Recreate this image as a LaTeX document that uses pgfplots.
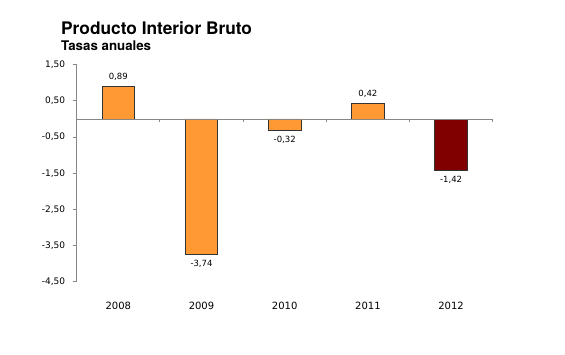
\documentclass[border=0pt]{standalone}
\usepackage{pgfplots}
\pgfplotsset{compat=1.18}
\usepackage{fontspec}
\setmainfont{DejaVu Sans}
\newfontfamily\titlefont{TeX Gyre Heros}
\definecolor{barorange}{HTML}{FF9933}
\definecolor{bardark}{HTML}{800000}
\definecolor{axgray}{HTML}{868686}
\begin{document}
\begin{tikzpicture}
\path[use as bounding box] (0pt,0pt) rectangle (565pt,354pt);
\node[anchor=base west, inner sep=0pt, font=\titlefont\bfseries\fontsize{17.3}{20}\selectfont] at (61pt,319.7pt) {Producto Interior Bruto};
\node[anchor=base west, inner sep=0pt, font=\titlefont\bfseries\fontsize{13.3}{16}\selectfont] at (61pt,303pt) {Tasas anuales};
\begin{axis}[
  at={(76.7pt,72.3pt)}, anchor=south west,
  scale only axis, width=416pt, height=217pt,
  xmin=-0.5, xmax=4.5, ymin=-4.5, ymax=1.5,
  ytick={-4.5,-3.5,-2.5,-1.5,-0.5,0.5,1.5},
  xtick={0,1,2,3,4},
  xticklabels={2008,2009,2010,2011,2012},
  axis x line*=bottom, axis y line*=left,
  x axis line style={draw=none},
  y axis line style={axgray, line width=0.8pt},
  xtick style={draw=none},
  ytick style={axgray, line width=0.8pt},
  tick align=outside, major tick length=4pt,
  /pgf/number format/assume math mode=true,
  yticklabel style={/pgf/number format/.cd, fixed, fixed zerofill, precision=2, use comma, /tikz/.cd, font=\fontsize{9}{11}\selectfont, xshift=-4pt},
  xticklabel style={font=\fontsize{10}{12}\selectfont, yshift=-13pt},
  ybar, bar width=32.5pt, bar shift=0pt,
  nodes near coords,
  nodes near coords style={font=\fontsize{8.5}{10}\selectfont, /pgf/number format/.cd, fixed, fixed zerofill, precision=2, use comma, /tikz/.cd, inner sep=1pt, outer sep=5pt, text=black},
  clip=false,
]
\addplot[fill=barorange, draw=black!80, line width=0.8pt] coordinates {(0,0.89) (1,-3.74) (2,-0.32) (3,0.42)};
\addplot[fill=bardark, draw=black!80, line width=0.8pt] coordinates {(4,-1.42)};
\draw[axgray, line width=0.8pt] (axis cs:-0.5,0) -- (axis cs:4.5,0);
\draw[axgray, line width=0.8pt] (axis cs:0.5,0) -- ([yshift=-3pt]axis cs:0.5,0);
\draw[axgray, line width=0.8pt] (axis cs:1.5,0) -- ([yshift=-3pt]axis cs:1.5,0);
\draw[axgray, line width=0.8pt] (axis cs:2.5,0) -- ([yshift=-3pt]axis cs:2.5,0);
\draw[axgray, line width=0.8pt] (axis cs:3.5,0) -- ([yshift=-3pt]axis cs:3.5,0);
\draw[axgray, line width=0.8pt] (axis cs:4.5,0) -- ([yshift=-3pt]axis cs:4.5,0);
\end{axis}
\end{tikzpicture}
\end{document}
